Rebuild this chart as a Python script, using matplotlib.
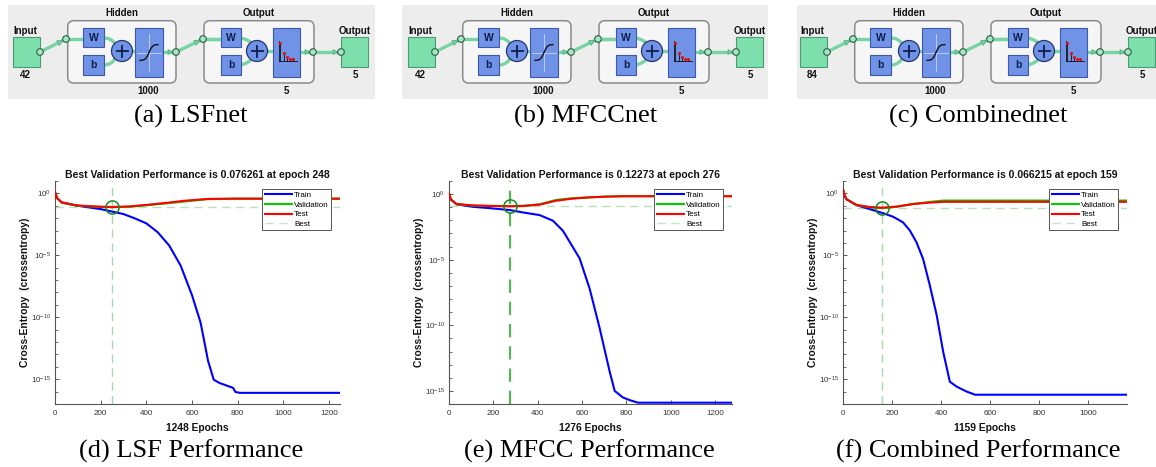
import numpy as np
import matplotlib
matplotlib.use("Agg")
import matplotlib.pyplot as plt
from matplotlib.patches import Rectangle, FancyBboxPatch, Circle, PathPatch, Polygon
from matplotlib.path import Path
from matplotlib.lines import Line2D
from matplotlib.ticker import FixedLocator, NullFormatter

plt.rcParams['font.family'] = ['Liberation Sans', 'DejaVu Sans']
plt.rcParams['mathtext.fontset'] = 'custom'
plt.rcParams['mathtext.rm'] = 'Liberation Sans'
plt.rcParams['mathtext.it'] = 'Liberation Sans'

# ---------------- data ----------------
net_names = ["(a) LSFnet", "(b) MFCCnet", "(c) Combinednet"]
net_inputs = ["42", "42", "84"]
hidden_size = "1000"
output_size = "5"

perf_names = ["(d) LSF Performance", "(e) MFCC Performance", "(f) Combined Performance"]
n_epochs = [1248, 1276, 1159]
best_epoch = [248, 276, 159]
best_perf = [0.076261, 0.12273, 0.066215]

# LSF (log10 of cross-entropy)
lsf_train_ep = [0, 8, 29, 100, 200, 248, 300, 350, 400, 450, 500, 550, 600, 637, 650, 670, 695, 720, 780, 790,
                810, 1248]
lsf_train = [0.06, -0.35, -0.74, -1.0, -1.27, -1.46, -1.67, -2.02, -2.42, -3.14, -4.21, -5.82, -8.22, -10.4,
             -11.6, -13.5, -15.04, -15.3, -15.7, -16.03, -16.1, -16.1]
lsf_val_ep = [0, 10, 29, 95, 198, 248, 329, 417, 500, 564, 667, 784, 1248]
lsf_val = [0.12, -0.4, -0.74, -1.0, -1.09, -1.118, -1.08, -0.93, -0.78, -0.66, -0.47, -0.44, -0.44]
lsf_test = [0.12, -0.4, -0.72, -0.97, -1.08, -1.10, -1.05, -0.90, -0.74, -0.60, -0.45, -0.42, -0.42]

# MFCC
mfcc_train_ep = [0, 8, 33, 108, 183, 276, 334, 409, 469, 514, 589, 634, 679, 724, 747, 784, 814, 852, 1276]
mfcc_train = [0.07, -0.4, -0.77, -0.97, -1.07, -1.22, -1.4, -1.6, -2.03, -2.8, -4.9, -7.2, -10.2, -13.5,
              -15.0, -15.5, -15.7, -15.9, -15.9]
mfcc_val_ep = [0, 8, 33, 108, 183, 276, 334, 409, 484, 559, 634, 709, 784, 1276]
mfcc_val = [0.07, -0.4, -0.77, -0.88, -0.90, -0.911, -0.89, -0.77, -0.44, -0.31, -0.24, -0.19, -0.16, -0.16]
mfcc_test = [0.07, -0.4, -0.75, -0.86, -0.90, -0.93, -0.91, -0.80, -0.50, -0.34, -0.25, -0.19, -0.16, -0.16]

# Combined
comb_train_ep = [0, 5, 14, 55, 109, 164, 205, 245, 273, 300, 327, 354, 382, 409, 436, 464, 505, 539, 1159]
comb_train = [0.33, -0.1, -0.47, -0.95, -1.27, -1.6, -1.89, -2.34, -3.0, -3.95, -5.3, -7.4, -9.8, -12.8,
              -15.2, -15.6, -16.0, -16.25, -16.25]
comb_val_ep = [0, 5, 14, 55, 109, 159, 220, 286, 350, 409, 1159]
comb_val = [0.33, -0.1, -0.47, -0.95, -1.12, -1.179, -1.08, -0.85, -0.70, -0.58, -0.58]
comb_test = [0.33, -0.1, -0.47, -0.93, -1.10, -1.16, -1.06, -0.86, -0.75, -0.68, -0.68]

ylims = [(-17, 1), (-16, 1), (-17, 1)]
xtick_sets = [[0, 200, 400, 600, 800, 1000, 1200], [0, 200, 400, 600, 800, 1000, 1200],
              [0, 200, 400, 600, 800, 1000]]

# ---------------- figure ----------------
W, H = 1156, 467
fig = plt.figure(figsize=(W / 100, H / 100), dpi=100)
fig.patch.set_facecolor('white')

ov = fig.add_axes([0, 0, 1, 1], zorder=0)
ov.set_xlim(0, W)
ov.set_ylim(H, 0)
ov.axis('off')

WIRE = '#78d4a3'
BLUE = '#7093e8'
BLUE_E = '#3d58a6'
GREEN_SQ = '#7ddfab'
GREEN_E = '#4a9c72'


def wire(pts, z=2):
    xs, ys = zip(*pts)
    ov.plot(xs, ys, color=WIRE, lw=2.4, solid_capstyle='butt', zorder=z)


def bez(p0, c1, c2, p1):
    path = Path([p0, c1, c2, p1], [Path.MOVETO, Path.CURVE4, Path.CURVE4, Path.CURVE4])
    ov.add_patch(PathPatch(path, fc='none', ec=WIRE, lw=2.4, zorder=2))


def arrowhead(x0, y0, x1, y1, size=5.0):
    d = np.array([x1 - x0, y1 - y0], float)
    d /= np.hypot(*d)
    n = np.array([-d[1], d[0]])
    tip = np.array([x1, y1])
    base = tip - d * size
    ov.add_patch(Polygon([tip, base + n * size * 0.55, base - n * size * 0.55], closed=True,
                         fc=WIRE, ec='#4fa87b', lw=0.5, zorder=3))


def node(x, y, r=3.3):
    ov.add_patch(Circle((x, y), r, fc='#a6e6c3', ec='#2c5d45', lw=0.8, zorder=5))


def blue_box(x0, y0, x1, y1, label=None):
    ov.add_patch(Rectangle((x0, y0), x1 - x0, y1 - y0, fc=BLUE, ec=BLUE_E, lw=0.8, zorder=4))
    if label:
        ov.text((x0 + x1) / 2, (y0 + y1) / 2 + 0.5, label, ha='center', va='center', fontsize=7.5,
                fontweight='bold', color='#0d1e4a', zorder=6)


def plus(cx, cy, r=10.5):
    ov.add_patch(Circle((cx, cy), r, fc=BLUE, ec='#23366e', lw=0.9, zorder=5))
    ov.plot([cx - 5.5, cx + 5.5], [cy, cy], color='#0d1e4a', lw=1.3, zorder=6)
    ov.plot([cx, cx], [cy - 5.5, cy + 5.5], color='#0d1e4a', lw=1.3, zorder=6)


def draw_net(ox, bg, n_in):
    bx0, by0, bx1, by1 = bg
    ov.add_patch(Rectangle((bx0, by0), bx1 - bx0, by1 - by0, fc='#ededed', ec='none', zorder=0))
    X = lambda v: ox + v
    for (x0, x1, cx, name) in [(67.7, 176, 122, "Hidden"), (204, 314, 259, "Output")]:
        ov.add_patch(FancyBboxPatch((X(x0), 20.7), x1 - x0, 62.3,
                                    boxstyle='round,pad=0,rounding_size=6',
                                    fc='#f6f6f6', ec='#8a8a8a', lw=1.1, zorder=1))
        ov.text(X(cx), 13, name, ha='center', va='center', fontsize=7, fontweight='bold', color='#111')
    ov.add_patch(Rectangle((X(12.7), 37), 27.3, 30, fc=GREEN_SQ, ec=GREEN_E, lw=0.8, zorder=4))
    ov.add_patch(Rectangle((X(341), 37), 27.3, 30, fc=GREEN_SQ, ec=GREEN_E, lw=0.8, zorder=4))
    ov.text(X(25.5), 30.5, "Input", ha='center', va='center', fontsize=7, fontweight='bold', color='#111')
    ov.text(X(25.5), 74.5, n_in, ha='center', va='center', fontsize=7, fontweight='bold', color='#111')
    ov.text(X(355), 30.5, "Output", ha='center', va='center', fontsize=7, fontweight='bold', color='#111')
    ov.text(X(355), 74.5, output_size, ha='center', va='center', fontsize=7, fontweight='bold', color='#111')
    ov.text(X(148), 91, hidden_size, ha='center', va='center', fontsize=7, fontweight='bold', color='#111')
    ov.text(X(286), 91, output_size, ha='center', va='center', fontsize=7, fontweight='bold', color='#111')
    wire([(X(40), 52), (X(66), 39)])
    arrowhead(X(40), 52, X(62.5), 40.8)
    node(X(40), 52)
    node(X(66), 39)
    for L in (0, 137):
        wire([(X(66 + L), 38.5), (X(83 + L), 38.5)])
        bez((X(104 + L - (4 if L else 0)), 38), (X(113 + L), 38), (X(116 + L), 45), (X(121 + L), 51))
        bez((X(104 + L - (4 if L else 0)), 65), (X(113 + L), 65), (X(116 + L), 57), (X(121 + L), 51))
    wire([(X(122), 51), (X(135), 51)])
    wire([(X(257), 51), (X(273), 51)])
    blue_box(X(83), 28, X(104), 47, "W")
    blue_box(X(83), 55, X(104), 75, "b")
    plus(X(122), 51)
    blue_box(X(135), 28, X(163), 77)
    ov.plot([X(137), X(161)], [52.5, 52.5], color='#c9d5f7', lw=0.6, zorder=6)
    ov.plot([X(149), X(149)], [34, 71], color='#c9d5f7', lw=0.6, zorder=6)
    t = np.linspace(-1, 1, 40)
    ov.plot(X(149) + 9 * t, 52.5 - 8 * np.tanh(2.6 * t), color='#111', lw=1.0, zorder=7)
    wire([(X(163), 52), (X(176), 52)])
    arrowhead(X(163), 52, X(172.5), 52, 4.5)
    node(X(176), 52)
    wire([(X(176), 52), (X(203), 39)])
    arrowhead(X(176), 52, X(199.5), 40.7)
    node(X(203), 39)
    wire([(X(203), 38.5), (X(221), 38.5)])
    blue_box(X(221), 28, X(241), 47, "W")
    blue_box(X(221), 55, X(241), 75, "b")
    plus(X(257), 51)
    blue_box(X(273), 28, X(300), 77)
    ov.plot([X(279), X(279)], [41, 61], color='#111', lw=0.6, zorder=6)
    ov.plot([X(279), X(297)], [60.5, 60.5], color='#111', lw=0.6, zorder=6)
    for sx, sy in [(280, 43), (283.5, 53), (286.5, 57), (289.5, 58.5), (292.5, 59)]:
        ov.plot([X(sx), X(sx)], [sy, 60.5], color='#111', lw=0.6, zorder=6)
        ov.plot([X(sx)], [sy], 'o', ms=2.2, color='#e01010', mec='none', zorder=7)
    wire([(X(300), 52), (X(341), 52)])
    arrowhead(X(300), 52, X(309.5), 52, 4.5)
    arrowhead(X(313), 52, X(337.5), 52, 4.5)
    node(X(313), 52)
    node(X(341), 52)


draw_net(0, (8, 5, 375, 99), net_inputs[0])
draw_net(395, (402, 5, 768, 99), net_inputs[1])
draw_net(787, (797, 5, 1156, 99), net_inputs[2])

cap_kw = dict(ha='center', va='center', fontsize=19, family='Liberation Serif', color='#000')
for cx, txt in zip([191, 586, 978], net_names):
    ov.text(cx, 116, txt, **cap_kw)
for cx, txt in zip([191, 589, 978], perf_names):
    ov.text(cx, 451, txt, **cap_kw)


# ---------------- performance plots ----------------
def px_axes(l, r, t, b):
    return fig.add_axes([l / W, 1 - b / H, (r - l) / W, (b - t) / H], zorder=2)


panels = [
    ((55, 340, 181, 404), lsf_train_ep, lsf_train, lsf_val_ep, lsf_val, lsf_test, '#a8d8a8', 1.0),
    ((449, 732, 181, 404), mfcc_train_ep, mfcc_train, mfcc_val_ep, mfcc_val, mfcc_test, '#5cb25c', 1.6),
    ((843, 1127, 181, 404), comb_train_ep, comb_train, comb_val_ep, comb_val, comb_test, '#a8d8a8', 1.0),
]

for i, (box, tep, tr, vep, va, te, vcol, vlw) in enumerate(panels):
    l, r, t, b = box
    ax = px_axes(l, r, t, b)
    ax.set_yscale('log')
    ax.set_xlim(0, n_epochs[i])
    ax.set_ylim(10.0 ** ylims[i][0], 10.0 ** ylims[i][1])
    ax.axvline(best_epoch[i], color=vcol, ls=(0, (6, 4)), lw=vlw, zorder=1)
    ax.axhline(best_perf[i], color='#b9e0b9', ls=(0, (6, 4)), lw=1.0, zorder=1)
    ax.plot(tep, 10.0 ** np.array(tr), color='#0000ff', lw=1.5, zorder=3)
    ax.plot(vep, 10.0 ** np.array(va), color='#00cc00', lw=1.5, zorder=4)
    ax.plot(vep, 10.0 ** np.array(te), color='#ff0000', lw=1.5, zorder=5)
    ax.plot([best_epoch[i]], [best_perf[i]], 'o', ms=9.5, mfc='none', mec='#178a17', mew=1.1, zorder=6)

    for s in ('top', 'right'):
        ax.spines[s].set_visible(False)
    for s in ('left', 'bottom'):
        ax.spines[s].set_color('#555555')
        ax.spines[s].set_linewidth(0.8)

    ax.set_xticks(xtick_sets[i])
    ax.set_xticklabels([str(v) for v in xtick_sets[i]])
    ax.yaxis.set_major_locator(FixedLocator([1e0, 1e-5, 1e-10, 1e-15]))
    ax.set_yticklabels([r'$10^{0}$', r'$10^{-5}$', r'$10^{-10}$', r'$10^{-15}$'])
    lo, hi = ylims[i]
    ax.yaxis.set_minor_locator(FixedLocator([10.0 ** k for k in range(lo, hi + 1) if k % 5 != 0]))
    ax.yaxis.set_minor_formatter(NullFormatter())
    ax.tick_params(axis='both', which='major', direction='in', length=3, width=0.7, colors='#555555',
                   labelsize=5.8, labelcolor='#333333', pad=3)
    ax.tick_params(axis='x', which='major', pad=4.5)
    ax.tick_params(axis='y', which='minor', direction='in', length=2, width=0.6, colors='#555555')
    ax.tick_params(axis='x', which='minor', bottom=False)

    ax.set_title("Best Validation Performance is %s at epoch %d" % (repr(best_perf[i]), best_epoch[i]),
                 fontsize=7.5, fontweight='bold', pad=2.5, color='#111')
    ax.set_xlabel("%d Epochs" % n_epochs[i], fontsize=7.4, fontweight='bold', color='#111')
    ax.xaxis.set_label_coords(0.5, -(428 - b) / (b - t))
    ax.xaxis.label.set_va('center')
    ax.set_ylabel("Cross-Entropy  (crossentropy)", fontsize=7.4, fontweight='bold', color='#111')
    ax.yaxis.set_label_coords(-30 / (r - l), 0.5)
    ax.yaxis.label.set_va('center')

    handles = [Line2D([], [], color='#0000ff', lw=1.5), Line2D([], [], color='#00cc00', lw=1.5),
               Line2D([], [], color='#ff0000', lw=1.5),
               Line2D([], [], color='#c5e5c5', lw=1.0, ls=(0, (6, 4)))]
    leg = ax.legend(handles, ['Train', 'Validation', 'Test', 'Best'], loc='upper right',
                    bbox_to_anchor=(1 - 9 / (r - l), 1 - 8 / (b - t)), borderaxespad=0,
                    fontsize=5.8, frameon=True, fancybox=False, framealpha=1, edgecolor='#555555',
                    borderpad=0.3, labelspacing=0.25, handlelength=3.35, handletextpad=0.3)
    leg.get_frame().set_linewidth(0.7)
    leg.set_zorder(10)

fig.savefig('out.png', dpi=100, facecolor='white')
